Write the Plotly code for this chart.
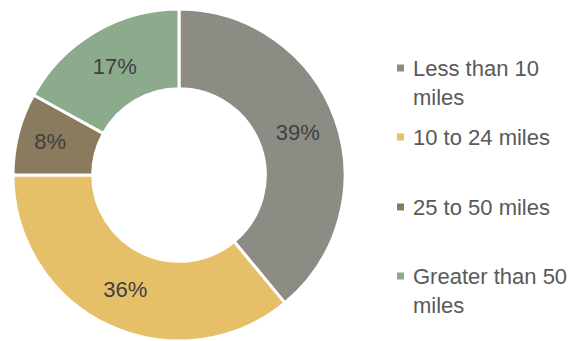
import plotly.graph_objects as go

labels = ["Less than 10 miles", "10 to 24 miles", "25 to 50 miles", "Greater than 50 miles"]
legend_text = ["Less than 10<br>miles", "10 to 24 miles", "25 to 50 miles", "Greater than 50<br>miles"]
values = [39, 36, 8, 17]
colors = ["#8C8C84", "#E6BF69", "#8A7A5E", "#8CAA8C"]

W, H = 585, 341
FONT = "Liberation Sans, Arial, sans-serif"
fig = go.Figure()
fig.add_trace(go.Pie(
    labels=labels, values=values, sort=False, direction="clockwise", rotation=0,
    hole=0.52,
    marker=dict(colors=colors, line=dict(color="white", width=3)),
    textinfo="percent", textposition="inside", insidetextorientation="horizontal",
    textfont=dict(family=FONT, size=22, color="#404040"),
    domain=dict(x=[13 / W, 345 / W], y=[0 / H, 332 / H]),
    showlegend=False,
))

legend_y = [68, 137, 207, 276]
shapes = []
annotations = []
for txt, col, yy in zip(legend_text, colors, legend_y):
    shapes.append(dict(type="rect", xref="paper", yref="paper",
                       x0=397 / W, x1=404 / W, y0=1 - (yy + 3.5) / H, y1=1 - (yy - 3.5) / H,
                       fillcolor=col, line=dict(width=0)))
    annotations.append(dict(xref="paper", yref="paper", x=411 / W, y=1 - (yy - 14) / H,
                            xanchor="left", yanchor="top", align="left", showarrow=False,
                            text=txt,
                            font=dict(family=FONT, size=22, color="#595959")))

fig.update_layout(width=W, height=H, margin=dict(l=0, r=0, t=0, b=0),
                  paper_bgcolor="white", plot_bgcolor="white",
                  shapes=shapes, annotations=annotations)
fig.write_html("out.html", config={"displayModeBar": False},
               post_script="document.body.style.margin='0';")
